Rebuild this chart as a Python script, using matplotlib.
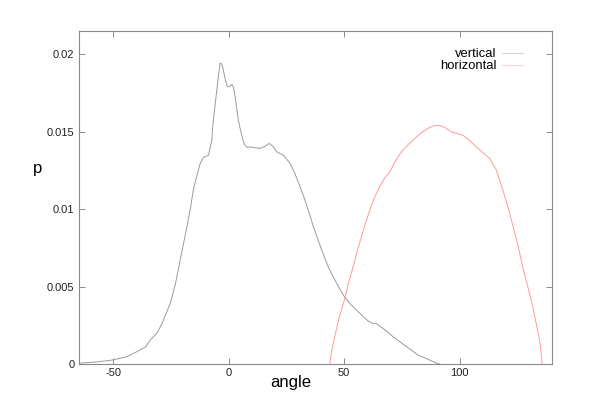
import matplotlib
matplotlib.use("Agg")
import matplotlib.pyplot as plt
import numpy as np

plt.rcParams['font.family'] = ['Liberation Sans', 'DejaVu Sans']

vert_x = [-65, -58, -50, -44, -39.7, -36, -33.9, -31, -28.9, -25.3, -23, -21, -19.5, -18,
          -16.5, -15.2, -13.5, -12.3, -10.9, -8.7, -7.3, -6.6, -5.8, -4.5, -3.7, -3.2,
          -2.5, -1.5, -0.7, 0, 0.7, 1.4, 2.1, 2.8, 4.2, 5, 6.4, 7.1, 8.1, 9.3, 10.7, 13.6,
          15.6, 17.6, 19.2, 20.8, 23.7, 26.6, 28.7, 30.9, 32.3, 35.2, 36.6, 40.3, 43.1,
          46, 49.6, 52.5, 56.8, 60.4, 62.5, 64, 66.9, 71.2, 74, 77, 82, 87, 90, 91.4]
vert_y = [0.00005, 0.00012, 0.00026, 0.00048, 0.0008, 0.0011, 0.00155, 0.002, 0.0026, 0.0039,
          0.0052, 0.0067, 0.0078, 0.0089, 0.0101, 0.0113, 0.0123, 0.01295, 0.01334, 0.01348,
          0.01445, 0.0158, 0.0168, 0.0185, 0.01944, 0.0194, 0.01915, 0.0184, 0.01795, 0.0179,
          0.01795, 0.01805, 0.01785, 0.01725, 0.01574, 0.0152, 0.01434, 0.01413, 0.01398,
          0.01402, 0.01398, 0.01392, 0.01405, 0.01424, 0.01405, 0.0137, 0.01348, 0.01295,
          0.0123, 0.01144, 0.0109, 0.0096, 0.0089, 0.00735, 0.00628, 0.00542, 0.00445,
          0.0039, 0.00327, 0.00277, 0.00262, 0.0026, 0.0023, 0.00176, 0.00145, 0.00112,
          0.00058, 0.00026, 0.00006, 0.0]

horiz_x = [43.8, 44.3, 45.3, 47.5, 50.3, 52, 53.9, 55.7, 57.5, 59.3, 61.1, 63, 65.4, 67.5,
           69.8, 72, 74.8, 78, 81.3, 84, 87, 89, 91.1, 93.5, 96.4, 99, 101.4, 104, 107.2,
           110, 113, 115.9, 117.5, 119.4, 121.2, 123, 125.2, 127.3, 129.5, 131.7, 133.3,
           134.6, 135.3, 135.7]
horiz_y = [0.0, 0.0006, 0.00134, 0.0028, 0.00424, 0.0053, 0.00628, 0.0073, 0.00821, 0.0091,
           0.00994, 0.0107, 0.01144, 0.0120, 0.01241, 0.01305, 0.0137, 0.0142, 0.01466,
           0.0150, 0.01527, 0.01538, 0.01542, 0.01528, 0.01499, 0.01487, 0.01477, 0.01448,
           0.01402, 0.01365, 0.01327, 0.01252, 0.0118, 0.0109, 0.0100, 0.00897, 0.0077,
           0.00628, 0.0050, 0.0037, 0.0025, 0.00155, 0.0007, 0.0]

x_ticks = [-50, 0, 50, 100]
y_ticks = [0, 0.005, 0.01, 0.015, 0.02]
y_tick_labels = ['0', '0.005', '0.01', '0.015', '0.02']

fig = plt.figure(figsize=(6.11, 4.08), dpi=100)
ax = fig.add_axes([78.5/611, 44/408, (552-78.5)/611, (364-31)/408])

ax.plot(vert_x, vert_y, color='#9a9a9a', lw=0.7, label='vertical')
ax.plot(horiz_x, horiz_y, color='#ff9a9a', lw=0.7, label='horizontal')

ax.set_xlim(-65, 140)
ax.set_ylim(0, 0.0215)
ax.set_xticks(x_ticks)
ax.set_xticklabels([str(t) for t in x_ticks])
ax.set_yticks(y_ticks)
ax.set_yticklabels(y_tick_labels)
ax.tick_params(direction='in', length=4, width=0.6, color='#777777', labelsize=8,
               labelcolor='#222222', top=True, right=True, pad=3)
for s in ax.spines.values():
    s.set_color('#888888')
    s.set_linewidth(0.8)

leg = ax.legend(loc='upper right', frameon=False, markerfirst=False, fontsize=9.4,
                handlelength=1.6, handletextpad=0.4, labelspacing=0.0,
                bbox_to_anchor=((522 - 78.5) / 473.5 + 0.002, (364 - 48) / 333), borderaxespad=0,
                borderpad=0)
for h in leg.legend_handles:
    h.set_linewidth(0.6)
leg.legend_handles[0].set_color('#c8c8c8')
leg.legend_handles[1].set_color('#ffc8c8')

fig.text(291/611, 1 - 383/408, 'angle', ha='center', va='center', fontsize=12)
fig.text(38/611, 1 - 168/408, 'p', ha='center', va='center', fontsize=12)

fig.savefig('out.png', dpi=100)
